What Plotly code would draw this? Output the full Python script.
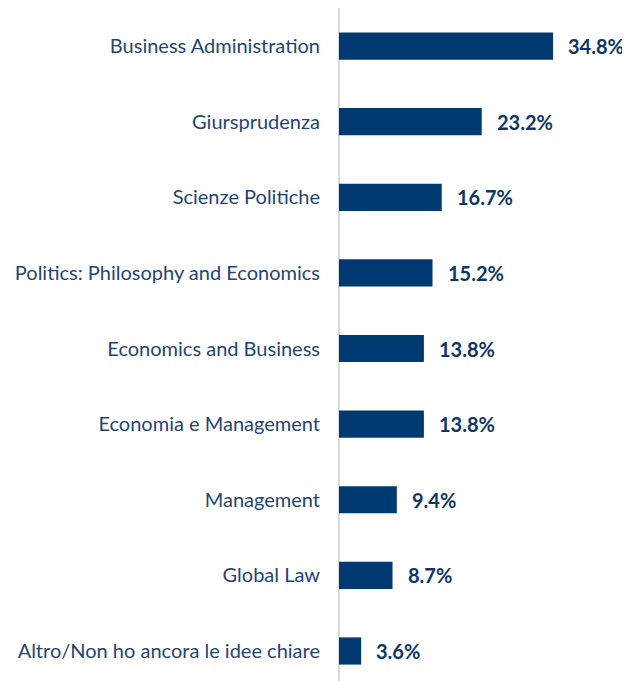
import plotly.graph_objects as go

categories = [
    "Business Administration",
    "Giursprudenza",
    "Scienze Politiche",
    "Politics: Philosophy and Economics",
    "Economics and Business",
    "Economia e Management",
    "Management",
    "Global Law",
    "Altro/Non ho ancora le idee chiare",
]
values = [34.8, 23.2, 16.7, 15.2, 13.8, 13.8, 9.4, 8.7, 3.6]
value_labels = ["34.8%", "23.2%", "16.7%", "15.2%", "13.8%", "13.8%", "9.4%", "8.7%", "3.6%"]

BAR = "#003a70"
TXT = "#1f4576"

fig = go.Figure(go.Bar(
    x=values, y=categories, orientation="h",
    marker=dict(color=BAR, line=dict(width=0)),
    width=0.36, hoverinfo="skip",
))

for c, v, t in zip(categories, values, value_labels):
    fig.add_annotation(x=v, y=c, text=f"<b>{t}</b>", showarrow=False,
                       xanchor="left", xshift=13,
                       font=dict(family="Lato", size=20, color="#0f3566"))

fig.update_layout(
    width=622, height=673,
    margin=dict(l=331, r=0, t=0, b=0),
    paper_bgcolor="white", plot_bgcolor="white",
    showlegend=False,
    font=dict(family="Lato", size=20, color=TXT),
    xaxis=dict(range=[0, 47.3], showgrid=False, showticklabels=False,
               zeroline=True, zerolinecolor="#d9d9d9", zerolinewidth=2, fixedrange=True),
    yaxis=dict(categoryorder="array", categoryarray=categories,
               range=[8.397, -0.503], showgrid=False, ticks="",
               ticklabelstandoff=18, tickfont=dict(family="Lato", size=20, color=TXT)),
)

fig.write_html("out.html")
